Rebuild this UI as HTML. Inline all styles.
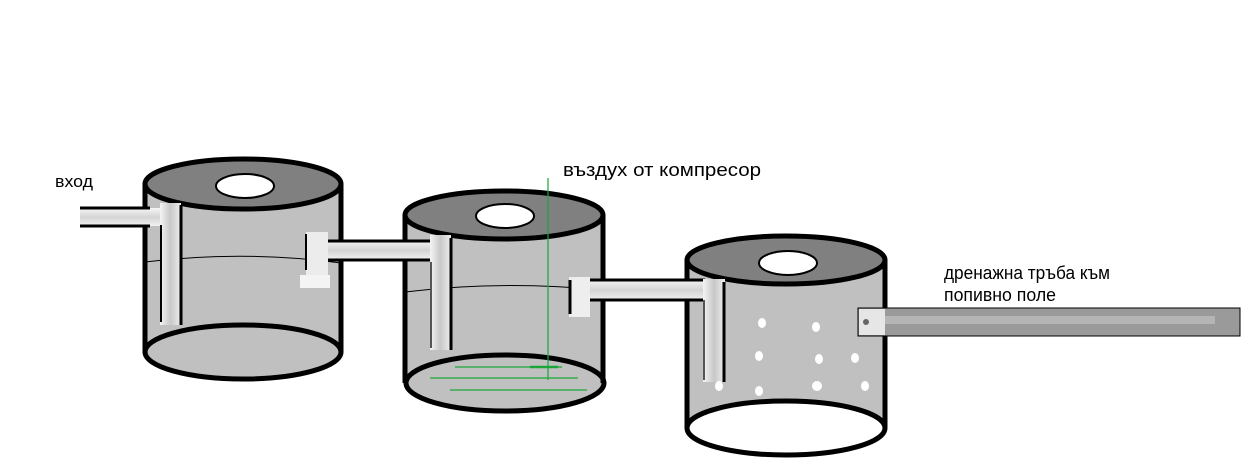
<!DOCTYPE html>
<html><head><meta charset="utf-8"><style>
html,body{margin:0;padding:0;background:#fff;}
svg{display:block;}
text{font-family:"Liberation Sans","DejaVu Sans",sans-serif;font-size:17px;fill:#000;}
</style></head><body>
<svg width="1248" height="473" viewBox="0 0 1248 473" xmlns="http://www.w3.org/2000/svg">
<defs>
<linearGradient id="pv" x1="0" x2="1" y1="0" y2="0">
<stop offset="0" stop-color="#f4f4f4"/><stop offset="0.5" stop-color="#c8c8c8"/><stop offset="1" stop-color="#eeeeee"/>
</linearGradient>
<linearGradient id="ph" x1="0" x2="0" y1="0" y2="1">
<stop offset="0" stop-color="#f6f6f6"/><stop offset="0.5" stop-color="#d4d4d4"/><stop offset="1" stop-color="#f2f2f2"/>
</linearGradient>
</defs>

<!-- Tank 1 -->
<rect x="145" y="184" width="196" height="168" fill="#c0c0c0"/>
<ellipse cx="243" cy="352" rx="98" ry="27" fill="#c0c0c0" stroke="#000" stroke-width="5"/>
<line x1="145" y1="184" x2="145" y2="352" stroke="#000" stroke-width="5"/>
<line x1="341" y1="184" x2="341" y2="352" stroke="#000" stroke-width="5"/>
<ellipse cx="243" cy="184" rx="98" ry="25" fill="#808080" stroke="#000" stroke-width="5"/>
<ellipse cx="245" cy="186" rx="29" ry="12" fill="#fff" stroke="#000" stroke-width="2"/>
<path d="M145 262 Q243 250 341 263" fill="none" stroke="#000" stroke-width="1"/>
<!-- inlet -->
<rect x="80" y="208" width="84" height="18" fill="url(#ph)"/>
<line x1="80" y1="208" x2="150" y2="208" stroke="#000" stroke-width="3"/>
<line x1="80" y1="226" x2="150" y2="226" stroke="#000" stroke-width="3"/>
<rect x="160" y="203" width="21" height="122" fill="url(#pv)"/>
<line x1="181" y1="205" x2="181" y2="325" stroke="#000" stroke-width="3"/>
<line x1="161" y1="225" x2="161" y2="322" stroke="#000" stroke-width="2"/>

<!-- Tank 2 -->
<rect x="405" y="215" width="199" height="168" fill="#c0c0c0"/>
<ellipse cx="505" cy="383" rx="99" ry="28" fill="#c0c0c0" stroke="#000" stroke-width="5"/>
<line x1="405" y1="215" x2="405" y2="383" stroke="#000" stroke-width="5"/>
<line x1="603" y1="215" x2="603" y2="383" stroke="#000" stroke-width="5"/>
<ellipse cx="504" cy="215" rx="99" ry="24" fill="#808080" stroke="#000" stroke-width="5"/>
<ellipse cx="505" cy="216" rx="29" ry="12" fill="#fff" stroke="#000" stroke-width="2"/>
<path d="M405 292 Q500 280 603 290" fill="none" stroke="#000" stroke-width="1"/>
<!-- pipe 1-2 -->
<rect x="328" y="240" width="122" height="20" fill="url(#ph)"/>
<line x1="328" y1="241" x2="432" y2="241" stroke="#000" stroke-width="3"/>
<line x1="328" y1="260" x2="432" y2="260" stroke="#000" stroke-width="3"/>
<rect x="306" y="232" width="22" height="56" fill="#ececec"/>
<line x1="306" y1="234" x2="306" y2="270" stroke="#000" stroke-width="2"/>
<rect x="300" y="275" width="30" height="13" fill="#f4f4f4"/>
<rect x="430" y="235" width="21" height="115" fill="url(#pv)"/>
<line x1="451" y1="238" x2="451" y2="350" stroke="#000" stroke-width="3"/>
<line x1="431" y1="262" x2="431" y2="348" stroke="#555" stroke-width="2"/>

<!-- Tank 3 -->
<rect x="687" y="260" width="198" height="168" fill="#c0c0c0"/>
<ellipse cx="786" cy="428" rx="99" ry="27" fill="#fff" stroke="#000" stroke-width="5"/>
<line x1="687" y1="260" x2="687" y2="428" stroke="#000" stroke-width="5"/>
<line x1="885" y1="260" x2="885" y2="428" stroke="#000" stroke-width="5"/>
<ellipse cx="786" cy="260" rx="99" ry="24" fill="#808080" stroke="#000" stroke-width="5"/>
<ellipse cx="788" cy="263" rx="29" ry="12" fill="#fff" stroke="#000" stroke-width="2"/>
<!-- pipe 2-3 -->
<rect x="590" y="279" width="135" height="22" fill="url(#ph)"/>
<line x1="590" y1="280" x2="705" y2="280" stroke="#000" stroke-width="3"/>
<line x1="590" y1="300" x2="705" y2="300" stroke="#000" stroke-width="3"/>
<rect x="569" y="277" width="21" height="40" fill="#eeeeee"/>
<line x1="570" y1="280" x2="570" y2="314" stroke="#000" stroke-width="3"/>
<rect x="703" y="279" width="22" height="103" fill="url(#pv)"/>
<line x1="724" y1="282" x2="724" y2="382" stroke="#000" stroke-width="3"/>
<line x1="704" y1="300" x2="704" y2="380" stroke="#555" stroke-width="2"/>
<g fill="#fff">
<ellipse cx="762" cy="323" rx="4" ry="5"/><ellipse cx="816" cy="327" rx="4" ry="5"/>
<ellipse cx="759" cy="356" rx="4" ry="5"/><ellipse cx="819" cy="359" rx="4" ry="5"/>
<ellipse cx="855" cy="358" rx="4" ry="5"/><ellipse cx="719" cy="386" rx="4" ry="5"/>
<ellipse cx="759" cy="391" rx="4" ry="5"/><ellipse cx="817" cy="386" rx="5" ry="5"/>
<ellipse cx="865" cy="386" rx="4" ry="5"/>
</g>
<!-- drain -->
<rect x="858" y="308" width="382" height="28" fill="#9a9a9a" stroke="#000" stroke-width="1"/>
<rect x="859" y="309" width="26" height="26" fill="#e6e6e6"/>
<rect x="885" y="316" width="330" height="8" fill="#b4b4b4"/>
<circle cx="866" cy="322" r="3" fill="#666"/>

<!-- green air line -->
<g stroke="#1aa637" stroke-width="1.2">
<line x1="548" y1="178" x2="548" y2="380"/>
<line x1="455" y1="367" x2="562" y2="367"/>
<line x1="530" y1="367" x2="558" y2="367" stroke-width="2.5"/>
<line x1="430" y1="378" x2="578" y2="378"/>
<line x1="450" y1="390" x2="587" y2="390"/>
</g>

<text x="55" y="187" textLength="38" lengthAdjust="spacingAndGlyphs">вход</text>
<text x="563" y="176" textLength="198" lengthAdjust="spacingAndGlyphs" style="font-size:18px">въздух от компресор</text>
<text x="944" y="279" textLength="166" lengthAdjust="spacingAndGlyphs" style="font-size:18px">дренажна тръба към</text>
<text x="944" y="301" textLength="112" lengthAdjust="spacingAndGlyphs" style="font-size:18px">попивно поле</text>
</svg>
</body></html>
